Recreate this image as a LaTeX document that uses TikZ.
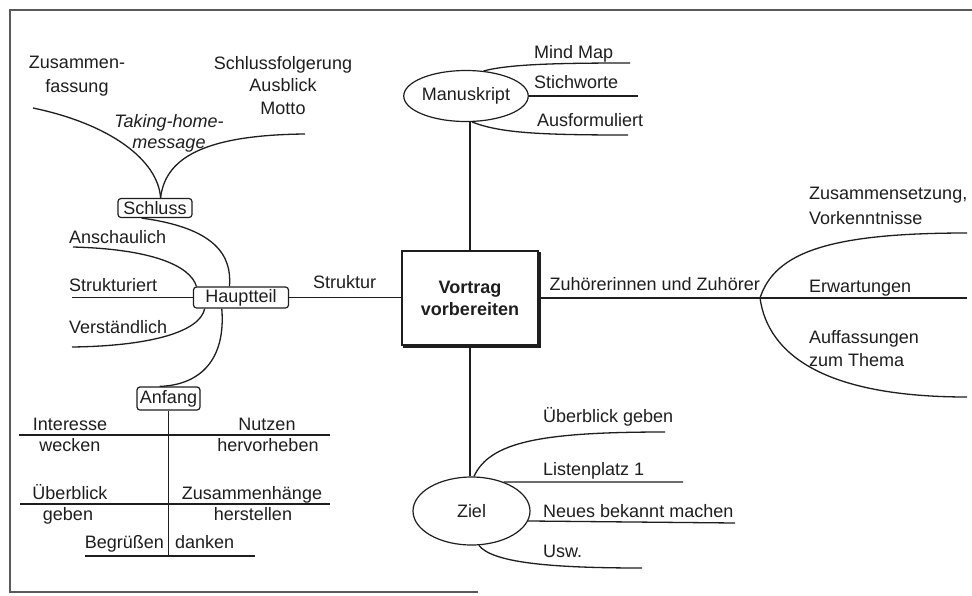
\documentclass[tikz,border=0pt]{standalone}
\usepackage{fontspec}
\setmainfont{Liberation Sans}
\usetikzlibrary{shapes.geometric}
\definecolor{ink}{HTML}{1E1E1E}
\begin{document}
\begin{tikzpicture}[x=1pt,y=-1pt,
  every node/.style={font=\fontsize{18}{22}\selectfont, text=ink, inner sep=0pt},
  ln/.style={line width=1.3pt, draw=ink},
  tb/.style={anchor=base},
  tw/.style={anchor=base west},
  te/.style={anchor=base east},
  rbox/.style={draw=ink, line width=1.2pt, rounded corners=3pt},
  oval/.style={ellipse, draw=ink, line width=1.2pt},
  frame/.style={line width=1.6pt, draw=black!65}
]
\useasboundingbox (0,0) rectangle (972,595);
\fill[white] (0,0) rectangle (972,595);

% frame
\coordinate (fTL) at (10,10);
\coordinate (fTR) at (972,10);
\coordinate (fBL) at (10,592);
\coordinate (fBR) at (478,592);
\draw[frame] (fTR) -- (fTL) -- (fBL) -- (fBR);

% main nodes
\node[draw=ink, line width=1.5pt, minimum width=136pt, minimum height=94pt, align=center,
      font=\fontsize{18}{22}\selectfont\bfseries] (vortrag) at (470,298) {Vortrag\\vorbereiten};
\draw[ln, line width=1.5pt] ([xshift=1.1pt,yshift=-2pt]vortrag.north east)
  -- ([xshift=1.1pt,yshift=-1.1pt]vortrag.south east)
  -- ([xshift=2pt,yshift=-1.1pt]vortrag.south west);
\node[oval, minimum width=121pt, minimum height=51pt] (manus) at (466,96) {Manuskript};
\node[oval, minimum width=117pt, minimum height=68pt] (ziel) at (471.5,511) {Ziel};
\node[rbox, minimum width=95pt, minimum height=21pt] (haupt) at (241,297.5) {Hauptteil};
\node[rbox, minimum width=74pt, minimum height=19pt] (schluss) at (155,208) {Schluss};
\node[rbox, minimum width=63pt, minimum height=23pt] (anfang) at (168.5,398.5) {Anfang};

% trunk connectors
\draw[ln] (haupt.east) -- (haupt.east -| vortrag.west);
\node[tw] (struktur) at (313,288) {Struktur};
\draw[ln] (vortrag.north) -- (vortrag.north |- manus.south);
\draw[ln] (vortrag.south) -- (vortrag.south |- ziel.north);
\coordinate (zv) at (760,298);
\coordinate (zEnd) at (967,298);
\coordinate (zUp) at (967,233);
\coordinate (zDn) at (967,397);
\draw[ln] (vortrag.east |- zv) -- (zEnd);
\draw[ln] (zv) .. controls (775,252) and (830,233) .. (zUp);
\draw[ln] (zv) .. controls (768,355) and (825,397) .. (zDn);
\node[te] (zuh) at (760,290) {Zuhörerinnen und Zuhörer};
\node[tw] (zs1) at (809,199) {Zusammensetzung,};
\node[tw] (zs2) at (809,224) {Vorkenntnisse};
\node[tw] (erw) at (809,292) {Erwartungen};
\node[tw] (au1) at (809,343) {Auffassungen};
\node[tw] (au2) at (809,366) {zum Thema};

% Manuskript branches
\coordinate (mmE) at (630,63);
\coordinate (swE) at (638,96);
\coordinate (afE) at (628,135);
\draw[ln] (manus.55) .. controls (510,64) and (560,63) .. (mmE);
\draw[ln] (manus.east) -- (manus.east -| swE);
\draw[ln] (manus.-77) .. controls (500,133) and (540,135) .. (afE);
\node[tw] (mm) at (534,58) {Mind Map};
\node[tw] (sw) at (534,88) {Stichworte};
\node[tw] (af) at (537,126) {Ausformuliert};

% Ziel branches
\coordinate (z1E) at (665,432);
\coordinate (z2E) at (683,482);
\coordinate (z3E) at (735,523);
\coordinate (z4E) at (642,568);
\draw[ln] (ziel.86) .. controls (490,442) and (540,432) .. (z1E);
\draw[ln] (ziel.42) -- (z2E);
\draw[ln] (ziel.-10) -- (z3E);
\draw[ln] (ziel.-78) .. controls (492,562) and (545,568) .. (z4E);
\node[tw] (zi1) at (543,422) {Überblick geben};
\node[tw] (zi2) at (543,475) {Listenplatz 1};
\node[tw] (zi3) at (543,517) {Neues bekannt machen};
\node[tw] (zi4) at (543,557) {Usw.};

% Schluss / Hauptteil / Anfang connectors
\draw[ln] (schluss.217) .. controls (215,228) and (232,255) .. (haupt.136);
\draw[ln] (haupt.210) .. controls (226,360) and (200,385) .. (anfang.126);

% Schluss branches
\coordinate (sL) at (33,108);
\coordinate (sR) at (305,134);
\draw[ln] (schluss.61) .. controls (158,160) and (110,124) .. (sL);
\draw[ln] (schluss.61) .. controls (165,160) and (200,135) .. (sR);
\node[tb] (zus1) at (77,68) {Zusammen-};
\node[tb] (zus2) at (77,92) {fassung};
\node[tb, font=\fontsize{18}{22}\selectfont\itshape] (tak1) at (169,127) {Taking-home-};
\node[tb, font=\fontsize{18}{22}\selectfont\itshape] (tak2) at (169,148) {message};
\node[tb] (sf1) at (283,69) {Schlussfolgerung};
\node[tb] (sf2) at (283,91) {Ausblick};
\node[tb] (sf3) at (283,114) {Motto};

% Hauptteil branches
\coordinate (anE) at (73,247);
\coordinate (stE) at (72,297);
\coordinate (veE) at (72,347);
\draw[ln] (haupt.166) .. controls (190,265) and (150,249) .. (anE);
\draw[ln] (haupt.west) -- (haupt.west -| stE);
\draw[ln] (haupt.197) .. controls (200,332) and (150,346) .. (veE);
\node[tw] (an) at (69,243) {Anschaulich};
\node[tw] (st) at (69,291) {Strukturiert};
\node[tw] (ve) at (69,333) {Verständlich};

% Anfang branches
\coordinate (l1a) at (19,435);
\coordinate (l1b) at (330,435);
\coordinate (l2a) at (20,504);
\coordinate (l2b) at (330,504);
\coordinate (l3a) at (85,556);
\coordinate (l3b) at (255,556);
\draw[ln] (anfang.south) -- (anfang.south |- l3a);
\draw[ln] (l1a) -- (l1b);
\draw[ln] (l2a) -- (l2b);
\draw[ln] (l3a) -- (l3b);
\node[tb] (in1) at (70,430) {Interesse};
\node[tb] (in2) at (70,451) {wecken};
\node[tb] (nu1) at (267,430) {Nutzen};
\node[tb] (nu2) at (268,451) {hervorheben};
\node[tb] (ub1) at (70,499) {Überblick};
\node[tb] (ub2) at (68,520) {geben};
\node[tb] (zh1) at (252,499) {Zusammenhänge};
\node[tb] (zh2) at (253,520) {herstellen};
\node[te] (be) at (164,548) {Begrüßen};
\node[tw] (da) at (175,548) {danken};
\end{tikzpicture}
\end{document}
